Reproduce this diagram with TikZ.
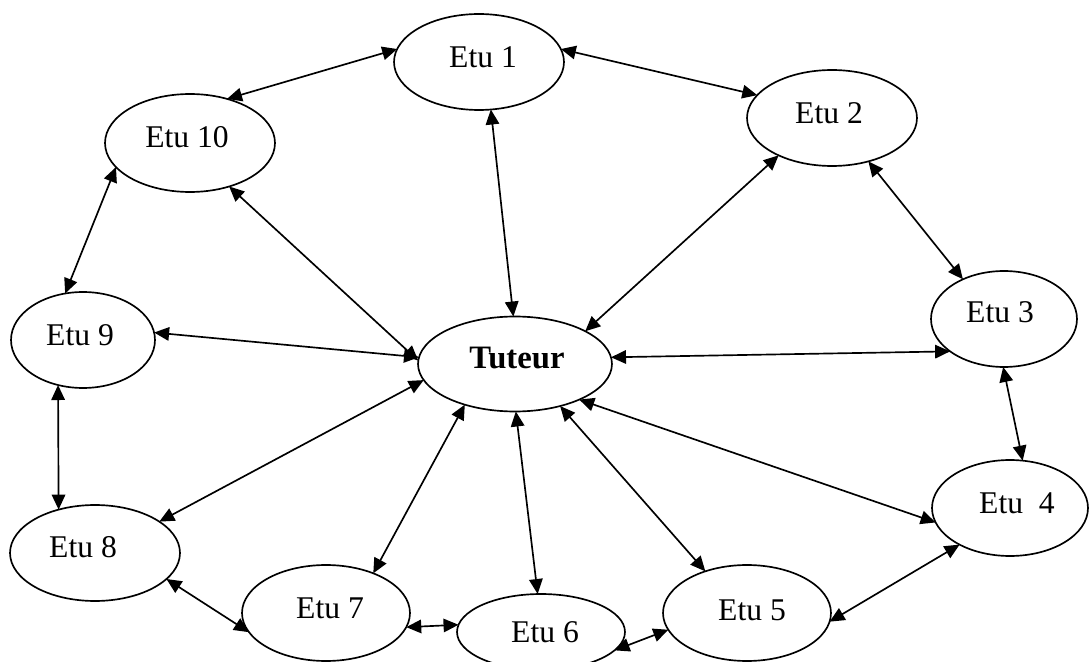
\documentclass[tikz,border=0pt]{standalone}
\usepackage{fontspec}
\setmainfont{Liberation Serif}
\usetikzlibrary{arrows.meta,shapes.geometric}
\begin{document}
\begin{tikzpicture}[x=0.02cm,y=-0.02cm,
  ell/.style={draw, ellipse, line width=0.95pt, inner sep=0pt, outer sep=0pt},
  lbl/.style={font=\fontsize{18}{21}\selectfont, inner sep=0pt},
  link/.style={{Triangle[length=0.3cm,width=0.27cm]}-{Triangle[length=0.3cm,width=0.27cm]}, line width=0.95pt}]
\useasboundingbox (0,0) rectangle (1089,662);
\clip (0,0) rectangle (1089,662);
% nodes
\node[ell, minimum width=3.4cm, minimum height=1.92cm, label={[lbl,xshift=0.08cm,yshift=0.1cm]center:Etu 1}] (e1) at (479,62) {};
\node[ell, minimum width=3.4cm, minimum height=1.92cm, label={[lbl,xshift=-0.06cm,yshift=0.1cm]center:Etu 2}] (e2) at (832,118) {};
\node[ell, minimum width=3.4cm, minimum height=1.96cm, label={[lbl,xshift=-0.06cm,yshift=0.12cm]center:Etu 10}] (e10) at (190,143) {};
\node[ell, minimum width=2.92cm, minimum height=1.92cm, label={[lbl,xshift=-0.08cm,yshift=0.14cm]center:Etu 3}] (e3) at (1004,319) {};
\node[ell, minimum width=2.88cm, minimum height=1.92cm, label={[lbl,xshift=-0.06cm,yshift=0.1cm]center:Etu 9}] (e9) at (83,340) {};
\node[ell, minimum width=3.88cm, minimum height=1.9cm, label={[lbl,font=\fontsize{18.6}{21}\selectfont,xshift=0.04cm,yshift=0.12cm]center:\textbf{Tuteur}}] (t) at (515,364) {};
\node[ell, minimum width=3.12cm, minimum height=1.92cm, label={[lbl,xshift=0.14cm,yshift=0.1cm]center:Etu\ \ 4}] (e4) at (1010,508) {};
\node[ell, minimum width=3.4cm, minimum height=1.92cm, label={[lbl,xshift=-0.24cm,yshift=0.12cm]center:Etu 8}] (e8) at (95,553) {};
\node[ell, minimum width=3.36cm, minimum height=1.92cm, label={[lbl,xshift=0.08cm,yshift=0.1cm]center:Etu 7}] (e7) at (326,613) {};
\node[ell, minimum width=3.36cm, minimum height=1.52cm, label={[lbl,xshift=0.08cm,yshift=0cm]center:Etu 6}] (e6) at (541,632) {};
\node[ell, minimum width=3.36cm, minimum height=1.92cm, label={[lbl,xshift=0.1cm,yshift=0.06cm]center:Etu 5}] (e5) at (747,613) {};
% connectors
\draw[link] (e1.171) -- (e10.50);
\draw[link] (e1.9) -- (e2.163);
\draw[link] (e1.-76) -- (t.92);
\draw[link] (e2.215) -- (t.25);
\draw[link] (e2.-50) -- (e3.136);
\draw[link] (e10.-48) -- (t.178);
\draw[link] (e10.198) -- (e9.111);
\draw[link] (e9.6) -- (t.176);
\draw[link] (t.4) -- (e3.211);
\draw[link] (e3.-91) -- (e4.75);
\draw[link] (t.-29) -- (e4.191);
\draw[link] (t.190) -- (e8.26);
\draw[link] (e9.241) -- (e8.130);
\draw[link] (t.219) -- (e7.40);
\draw[link] (t.-89) -- (e6.95);
\draw[link] (t.-43) -- (e5.135);
\draw[link] (e8.-20) -- (e7.194);
\draw[link] (e7.-10) -- (e6.175);
\draw[link] (e6.-14) -- (e5.192);
\draw[link] (e4.216) -- (e5.-6);
\end{tikzpicture}
\end{document}
